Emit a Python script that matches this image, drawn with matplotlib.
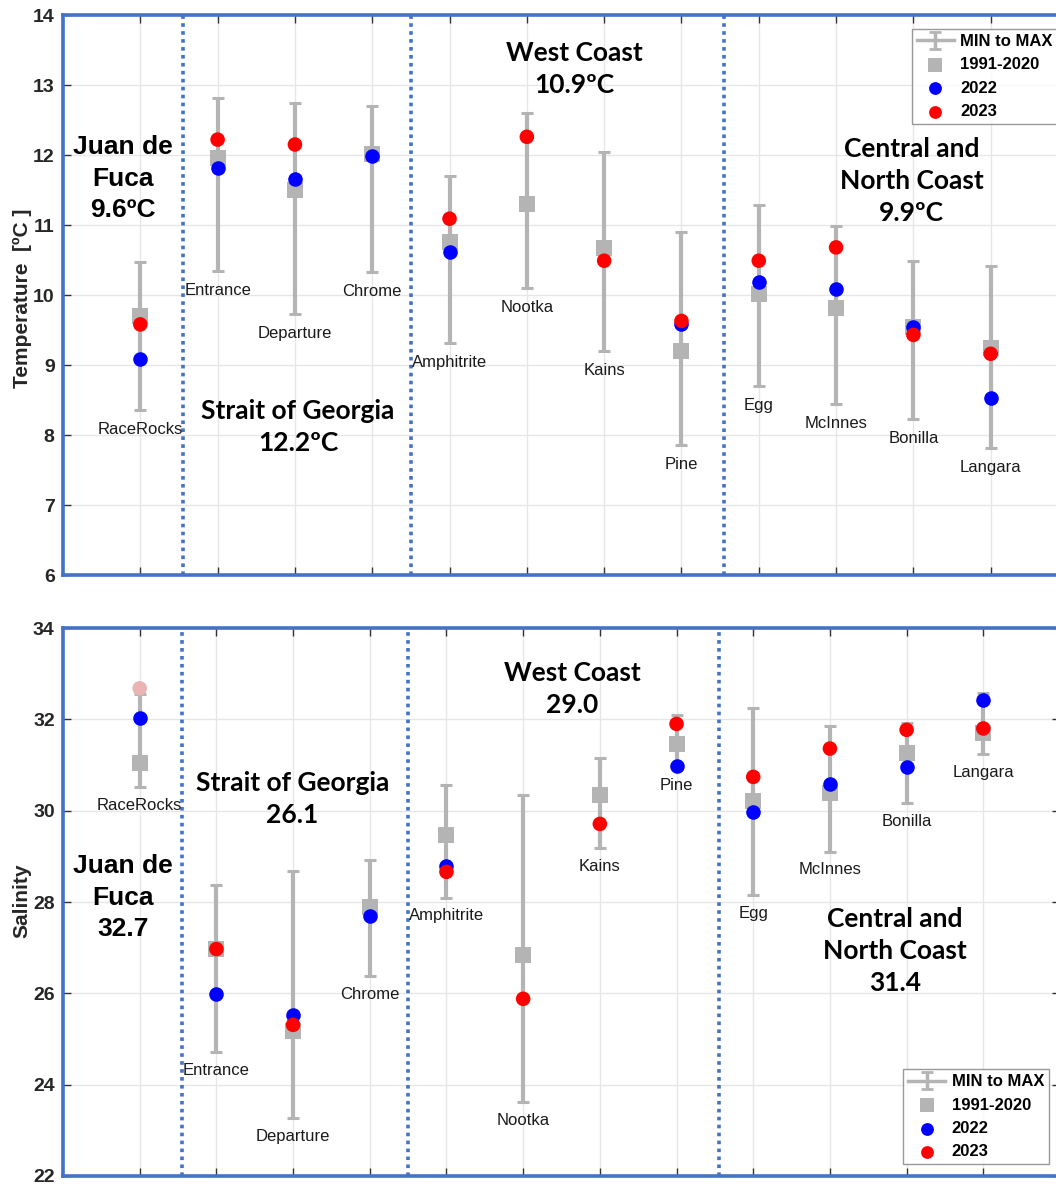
import numpy as np
import matplotlib.pyplot as plt

nan = np.nan

stations = ['RaceRocks', 'Entrance', 'Departure', 'Chrome', 'Amphitrite', 'Nootka',
            'Kains', 'Pine', 'Egg', 'McInnes', 'Bonilla', 'Langara']

# temperature, deg C
temp_min = [8.36, 10.34, 9.73, 10.33, 9.31, 10.10, 9.20, 7.86, 8.70, 8.44, 8.23, 7.81]
temp_max = [10.47, 12.81, 12.74, 12.70, 11.70, 12.60, 12.05, 10.90, 11.28, 10.98, 10.49, 10.42]
temp_clim = [9.70, 11.96, 11.50, 12.02, 10.76, 11.30, 10.67, 9.20, 10.01, 9.81, 9.55, 9.24]
temp_2022 = [9.09, 11.82, 11.66, 11.98, 10.61, nan, nan, 9.59, 10.19, 10.09, 9.55, 8.53]
temp_2023 = [9.58, 12.22, 12.15, nan, 11.09, 12.26, 10.49, 9.63, 10.49, 10.68, 9.43, 9.16]

# salinity
sal_min = [30.51, 24.71, 23.27, 26.38, 28.09, 23.62, 29.18, 30.95, 28.15, 29.10, 30.16, 31.24]
sal_max = [32.55, 28.37, 28.67, 28.93, 30.56, 30.34, 31.15, 32.09, 32.24, 31.85, 31.91, 32.58]
sal_clim = [31.04, 26.97, 25.18, 27.88, 29.47, 26.84, 30.34, 31.46, 30.22, 30.39, 31.26, 31.70]
sal_2022 = [32.02, 25.98, 25.53, 27.69, 28.79, nan, nan, 30.98, 29.96, 30.59, 30.96, 32.42]
sal_2023 = [32.68, 26.97, 25.31, nan, 28.66, 25.88, 29.71, 31.90, 30.74, 31.36, 31.77, 31.80]
sal_2023_partial = [True, False, False, False, False, False, False, False, False, False, False, False]

regions = ['Juan de\nFuca', 'Strait of Georgia', 'West Coast', 'Central and\nNorth Coast']
temp_region_mean = ['9.6ºC', '12.2ºC', '10.9ºC', '9.9ºC']
sal_region_mean = ['32.7', '26.1', '29.0', '31.4']

GRAY = '#B4B4B4'
BLUE = '#0000FF'
RED = '#FF0000'
PINK = '#E8B4B4'
FRAME = '#4472C4'

plt.rcParams['font.family'] = ['Liberation Sans', 'DejaVu Sans']

fig = plt.figure(figsize=(10.56, 11.84), dpi=100)
ax1 = fig.add_axes([63/1056, 609/1184, 1005/1056, 560/1184])
ax2 = fig.add_axes([63/1056, 8/1184, 997/1056, 548/1184])

x = np.arange(1, len(stations) + 1)


def draw_panel(ax, lo, hi, clim, y22, y23, faded, ylim, yticks, label_off):
    lo = np.array(lo); hi = np.array(hi)
    ax.errorbar(x, lo, yerr=[np.zeros_like(lo), hi - lo], fmt='none', ecolor=GRAY,
                elinewidth=3, capsize=4, capthick=2.2, zorder=2)
    ax.scatter(x, clim, marker='s', s=125, color=GRAY, linewidths=0, zorder=3)
    ax.scatter(x, y22, marker='o', s=110, color=BLUE, linewidths=0, zorder=4)
    cols = [PINK if f else RED for f in faded]
    ax.scatter(x, y23, marker='o', s=110, color=cols, linewidths=0, zorder=5)

    # legend proxies
    h0 = ax.errorbar([nan], [nan], yerr=[nan], color=GRAY, lw=2.5, capsize=4,
                     capthick=2, label='MIN to MAX')
    h1 = ax.scatter([], [], marker='s', s=90, color=GRAY, linewidths=0, label='1991-2020')
    h2 = ax.scatter([], [], marker='o', s=85, color=BLUE, linewidths=0, label='2022')
    h3 = ax.scatter([], [], marker='o', s=85, color=RED, linewidths=0, label='2023')

    for xi, name, l in zip(x, stations, lo):
        ax.annotate(name, (xi, l), xytext=(0, label_off), textcoords='offset points',
                    ha='center', va='center', fontsize=12, color='#1a1a1a')

    for xd in [1.55, 4.5, 8.55]:
        ax.axvline(xd, color=FRAME, ls=(0, (1, 1.2)), lw=2.6, zorder=1)

    ax.set_xlim(0, 13)
    ax.set_ylim(*ylim)
    ax.set_xticks(x)
    ax.set_xticklabels([])
    ax.set_yticks(yticks)
    ax.set_yticklabels([str(t) for t in yticks], fontsize=14, fontweight='bold', color='#262626')
    ax.grid(True, color='#E6E6E6', lw=1, zorder=0)
    ax.set_axisbelow(True)
    ax.tick_params(direction='in', length=6, width=1, color='#333333', top=True, right=True, pad=6)
    for s in ax.spines.values():
        s.set_color(FRAME)
        s.set_linewidth(2.6)
    return [h0, h1, h2, h3]


legend_kw = dict(prop={'weight': 'bold', 'size': 12}, frameon=True, fancybox=False,
                 borderpad=0.3, labelspacing=0.5, handlelength=2.2, handletextpad=0.4,
                 borderaxespad=0)

hs = draw_panel(ax1, temp_min, temp_max, temp_clim, temp_2022, temp_2023,
                [False] * len(stations), (6, 14), list(range(6, 15)), -14)
leg = ax1.legend(handles=hs, loc='upper right', bbox_to_anchor=(0.99, 0.975), **legend_kw)
leg.get_frame().set_edgecolor('#808080')
leg.get_frame().set_linewidth(1)

hs = draw_panel(ax2, sal_min, sal_max, sal_clim, sal_2022, sal_2023,
                sal_2023_partial, (22, 34), list(range(22, 35, 2)), -13)
leg = ax2.legend(handles=hs, loc='lower right', bbox_to_anchor=(0.989, 0.021), **legend_kw)
leg.get_frame().set_edgecolor('#808080')
leg.get_frame().set_linewidth(1)

# region labels
big = dict(fontsize=19, fontweight='bold', ha='center', va='center', linespacing=1.4)
ax1.text(0.78, 11.66, regions[0] + '\n' + temp_region_mean[0], family='Liberation Sans', **big)
ax1.text(3.04, 8.11, regions[1] + '\n' + temp_region_mean[1], family='Lato', **big)
ax1.text(6.62, 13.23, regions[2] + '\n' + temp_region_mean[2], family='Lato', **big)
ax1.text(10.98, 11.63, regions[3] + '\n' + temp_region_mean[3], family='Lato', **big)

ax2.text(0.78, 28.09, regions[0] + '\n' + sal_region_mean[0], family='Liberation Sans', **big)
ax2.text(2.99, 30.26, regions[1] + '\n' + sal_region_mean[1], family='Lato', **big)
ax2.text(6.64, 32.66, regions[2] + '\n' + sal_region_mean[2], family='Lato', **big)
ax2.text(10.85, 26.93, regions[3] + '\n' + sal_region_mean[3], family='Lato', **big)

fig.text(22/1056, 1 - 298/1184, 'Temperature  [ºC ]', rotation=90, ha='center', va='center',
         fontsize=15, fontweight='bold', color='#262626')
fig.text(22/1056, 1 - 901/1184, 'Salinity', rotation=90, ha='center', va='center',
         fontsize=15, fontweight='bold', color='#262626')

fig.savefig('out.png', dpi=100)
